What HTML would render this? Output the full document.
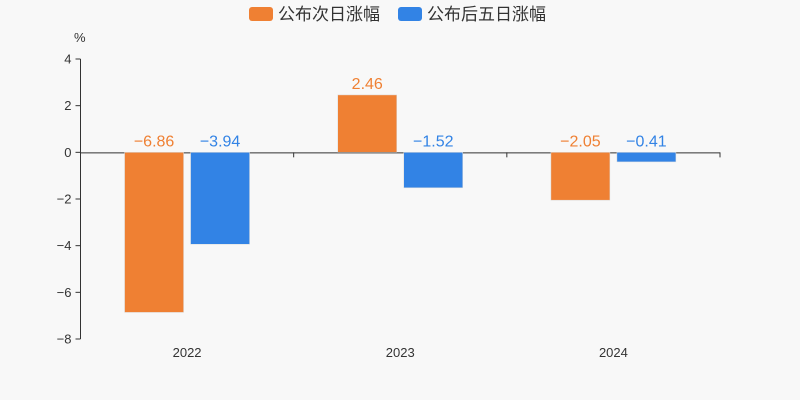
<!DOCTYPE html>
<html><head><meta charset="utf-8"><style>
body{margin:0;background:#f8f8f8;}
svg{display:block;font-family:"Liberation Sans","Noto Sans CJK SC",sans-serif;}
</style></head><body>
<svg id="chart" width="800" height="400" viewBox="0 0 800 400">
<rect width="800" height="400" fill="#f8f8f8"/>
<g>
<g><rect x="249" y="7" width="24" height="14" rx="3" fill="#ef8033"/><text x="278" y="20" font-size="17" fill="#333">公布次日涨幅</text></g>
<g><rect x="398" y="7" width="24" height="14" rx="3" fill="#3283e5"/><text x="427" y="20" font-size="17" fill="#333">公布后五日涨幅</text></g>
</g>
<text x="74" y="42" font-size="13" fill="#333">%</text>
<g id="axes"></g><g id="bars"></g>
</svg>
<script>
const categories=["2022","2023","2024"];
const nextDay=[-6.86,2.46,-2.05];
const fiveDay=[-3.94,-1.52,-0.41];
const yTicks=[4,2,0,-2,-4,-6,-8];
const ns="http://www.w3.org/2000/svg";
const L=80.5,R=720,yMax=4,yMin=-8,T=59,B=339;
const y=v=>T+(yMax-v)*(B-T)/(yMax-yMin);
const band=(R-L)/categories.length;
const x=i=>L+band*i+band/2;
function mk(t,a,p,txt){const e=document.createElementNS(ns,t);for(const k in a)e.setAttribute(k,a[k]);if(txt!=null)e.textContent=txt;p.appendChild(e);return e;}
const ax=document.getElementById('axes'),bg=document.getElementById('bars');
let e=mk('line',{x1:L,x2:L,y1:T,y2:B,stroke:'#333'},ax);

yTicks.forEach(v=>{
 let t=mk('line',{x1:L-5,x2:L,y1:y(v),y2:y(v),stroke:'#333'},ax);
 
 let l=mk('text',{x:L-9,y:y(v)+4.5,'text-anchor':'end','font-size':13,fill:'#333'},ax,v<0?'\u2212'+(-v):String(v));
 
});
e=mk('line',{x1:L,x2:R,y1:y(0)+0.5,y2:y(0)+0.5,stroke:'#333'},ax);

for(let i=0;i<=categories.length;i++){
 let t=mk('line',{x1:L+band*i,x2:L+band*i,y1:y(0),y2:y(0)+5,stroke:'#333'},ax);
 
}
categories.forEach((c,i)=>{
 let l=mk('text',{x:x(i),y:357,'text-anchor':'middle','font-size':13,fill:'#333'},ax,c);
 
});
const fmt=v=>v<0?'\u2212'+(-v).toFixed(2):v.toFixed(2);
const bw=59,gap=7;
[[nextDay,'#ef8033',-1,'bar-next-day'],[fiveDay,'#3283e5',1,'bar-five-day']].forEach(([data,col,side,nm])=>{
 data.forEach((v,i)=>{
  const cx=x(i)+side*(gap/2+bw/2);
  const y0=y(0),yv=y(v);
  const r=mk('rect',{x:cx-bw/2,y:Math.min(y0,yv),width:bw,height:Math.abs(yv-y0),fill:col,stroke:'#ddd','stroke-width':0.5},bg);
  
  const l=mk('text',{x:cx,y:Math.min(y0,yv)-6,'text-anchor':'middle','font-size':16,fill:col},bg,fmt(v));
  
 });
});
</script>
</body></html>
